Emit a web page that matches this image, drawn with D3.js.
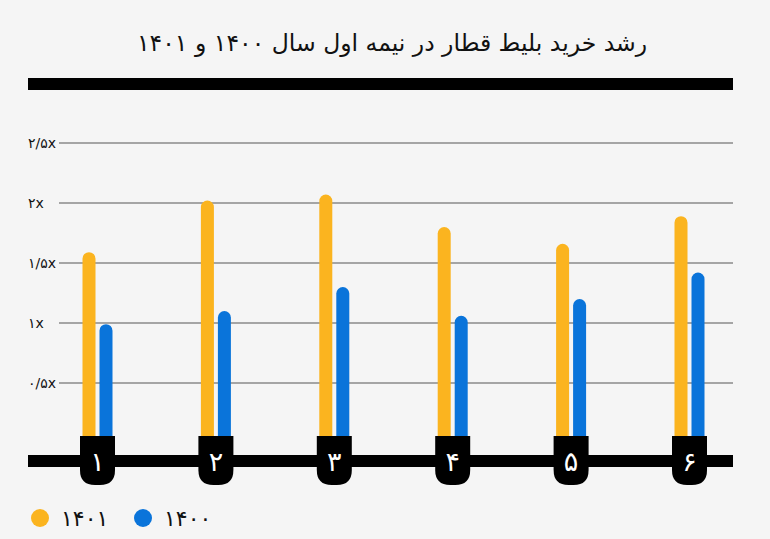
<!DOCTYPE html>
<html>
<head>
<meta charset="utf-8">
<script src="https://cdn.jsdelivr.net/npm/d3@7"></script>
<style>
  html, body { margin: 0; padding: 0; background: #f5f5f5; }
  svg { display: block; }
  text { font-family: "DejaVu Sans", "Noto Sans", sans-serif; }
</style>
</head>
<body>
<svg id="chart" width="770" height="539"></svg>
<script>
const title = "رشد خرید بلیط قطار در نیمه اول سال ۱۴۰۰ و ۱۴۰۱";
const categories = ["۱", "۲", "۳", "۴", "۵", "۶"];
const series1401 = [1.59, 2.02, 2.07, 1.80, 1.66, 1.89];
const series1400 = [0.99, 1.10, 1.30, 1.06, 1.20, 1.42];
const seriesNames = ["۱۴۰۱", "۱۴۰۰"];
const seriesColors = ["#FBB41F", "#0A74DA"];
const yTicks = [0.5, 1, 1.5, 2, 2.5];
const yTickLabels = ["۰/۵x", "۱x", "۱/۵x", "۲x", "۲/۵x"];

const svg = d3.select("#chart");
svg.append("rect").attr("width", 770).attr("height", 539).attr("fill", "#f5f5f5");

const x = d3.scalePoint().domain(categories).range([97.5, 689.5]);
const y = d3.scaleLinear().domain([0, 2.5]).range([443, 143]);

// title
svg.append("text")
  .attr("x", 392).attr("y", 51)
  .attr("text-anchor", "middle")
  .attr("direction", "rtl")
  .attr("font-size", 23.5)
  .attr("fill", "#111")
  .text(title);

// top thick line
svg.append("rect").attr("x", 28).attr("y", 78).attr("width", 705).attr("height", 12).attr("fill", "#000");

// gridlines
const grid = svg.append("g");
grid.selectAll("line").data(yTicks).join("line")
  .attr("x1", 59).attr("x2", 733)
  .attr("y1", d => y(d)).attr("y2", d => y(d))
  .attr("stroke", "#8a8a8a").attr("stroke-width", 1.5);
grid.selectAll("text").data(yTicks).join("text")
  .attr("x", 28).attr("y", d => y(d) + 5)
  .attr("text-anchor", "start")
  .attr("font-size", 14)
  .attr("fill", "#111")
  .text((d, i) => yTickLabels[i]);

// bars
const barW = 13, off = 8.5;
const allSeries = [series1401, series1400];
allSeries.forEach((vals, si) => {
  svg.append("g").selectAll("rect").data(vals).join("rect")
    .attr("x", (d, i) => x(categories[i]) + (si === 0 ? -off : off) - barW / 2)
    .attr("y", d => y(d))
    .attr("width", barW)
    .attr("height", d => 450 - y(d))
    .attr("rx", barW / 2)
    .attr("fill", seriesColors[si]);
});

// baseline
svg.append("rect").attr("x", 28).attr("y", 455).attr("width", 705).attr("height", 12).attr("fill", "#000");

// badges
const bw = 35, btop = 436, bbot = 485, br = 15;
const badge = svg.append("g").selectAll("g").data(categories).join("g")
  .attr("transform", d => `translate(${x(d)},0)`);
badge.append("path")
  .attr("d", () => {
    const l = -bw / 2, r = bw / 2;
    return `M${l},${btop} L${r},${btop} L${r},${bbot - br} Q${r},${bbot} ${r - br},${bbot} L${l + br},${bbot} Q${l},${bbot} ${l},${bbot - br} Z`;
  })
  .attr("fill", "#000");
badge.append("text")
  .attr("x", 0).attr("y", 471)
  .attr("text-anchor", "middle")
  .attr("font-size", 27)
  .attr("fill", "#fff")
  .text(d => d);

// legend
const legendX = [40, 143];
const lg = svg.append("g").selectAll("g").data(seriesNames).join("g")
  .attr("transform", (d, i) => `translate(${legendX[i]},518)`);
lg.append("circle").attr("r", 9).attr("fill", (d, i) => seriesColors[i]);
lg.append("text")
  .attr("x", 21).attr("y", 8)
  .attr("font-size", 22)
  .attr("fill", "#111")
  .text(d => d);
</script>
</body>
</html>
